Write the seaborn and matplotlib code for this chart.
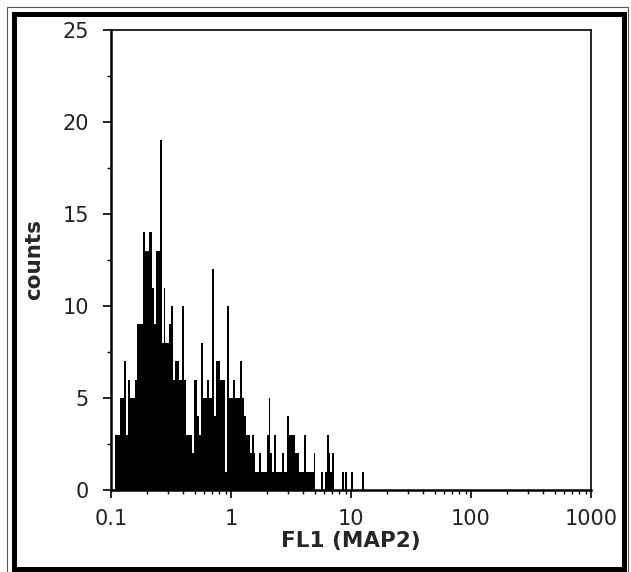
import numpy as np
import pandas as pd
import seaborn as sns
import matplotlib.pyplot as plt
from matplotlib.patches import Rectangle
from matplotlib.ticker import LogLocator, NullFormatter, FixedLocator

# histogram counts, one per log channel (64 channels per decade, starting at 0.1)
counts = [0, 0, 3, 3, 3, 5, 5, 7, 3, 6,
          5, 5, 5, 6, 9, 9, 9, 14, 13, 13,
          14, 14, 11, 9, 13, 13, 19, 8, 11, 8,
          8, 9, 10, 6, 7, 7, 6, 6, 10, 6,
          3, 3, 3, 2, 6, 6, 4, 3, 8, 5,
          5, 6, 5, 5, 12, 4, 7, 7, 6, 6,
          6, 1, 10, 5, 5, 6, 5, 5, 5, 7,
          5, 4, 3, 3, 2, 3, 2, 1, 1, 2,
          1, 1, 1, 3, 5, 2, 1, 3, 1, 1,
          1, 2, 1, 1, 4, 3, 3, 3, 2, 2,
          1, 1, 1, 3, 1, 1, 1, 1, 2, 0,
          0, 0, 1, 0, 1, 3, 2, 1, 2, 0,
          0, 0, 0, 1, 0, 1, 0, 0, 1, 0,
          0, 0, 0, 0, 1]
channels_per_decade = 64
x_min, x_max = 0.1, 1000
y_ticks = [0, 5, 10, 15, 20, 25]
x_ticks = [0.1, 1, 10, 100, 1000]
x_ticklabels = ['0.1', '1', '10', '100', '1000']

edges = x_min * 10 ** (np.arange(len(counts) + 1) / channels_per_decade)
centers = np.sqrt(edges[:-1] * edges[1:])
df = pd.DataFrame({'fl1': centers, 'n': counts})

sns.set_style('ticks')
plt.rcParams['font.family'] = ['DejaVu Sans']

W, H = 631, 572
fig = plt.figure(figsize=(W / 100, H / 100), dpi=100)
ax = fig.add_axes([111 / W, 1 - 490 / H, 480 / W, 460 / H])

sns.histplot(data=df, x='fl1', weights='n', bins=edges.tolist(), color='black',
             alpha=1, linewidth=0, ax=ax)
ax.set_xscale('log')
ax.set_xlim(x_min, x_max)
ax.set_ylim(0, 25)

ax.xaxis.set_major_locator(FixedLocator(x_ticks))
ax.set_xticklabels(x_ticklabels)
ax.xaxis.set_minor_locator(LogLocator(base=10, subs=np.arange(2, 10)))
ax.xaxis.set_minor_formatter(NullFormatter())
ax.set_yticks(y_ticks)
ax.set_yticks(np.arange(2.5, 25, 5), minor=True)

ax.tick_params(axis='both', which='major', direction='out', length=6,
               width=1.2, color='black', labelsize=15, labelcolor='#222222')
ax.tick_params(axis='x', which='major', pad=8)
ax.tick_params(axis='y', which='major', pad=10)
ax.tick_params(axis='both', which='minor', direction='out', length=3,
               width=1.0, color='black')

for s in ax.spines.values():
    s.set_visible(True)
    s.set_color('black')
    s.set_linewidth(1.2)
ax.spines['left'].set_linewidth(1.8)
ax.spines['bottom'].set_linewidth(1.8)

ax.set_xlabel('FL1 (MAP2)', fontsize=15.5, fontweight='bold', labelpad=1)
ax.set_ylabel('counts', fontsize=15.5, fontweight='bold', labelpad=13)
ax.grid(False)

# double frame around the figure
def px_rect(x0, y0, x1, y1, lw, color):
    fig.patches.append(Rectangle((x0 / W, 1 - y1 / H), (x1 - x0) / W,
                                 (y1 - y0) / H, transform=fig.transFigure,
                                 fill=False, lw=lw, edgecolor=color,
                                 zorder=10))

px_rect(7, 7, 628, 580, 0.8, '#555555')
px_rect(13.5, 13.5, 623.5, 568.5, 3.6, 'black')

fig.savefig('out.png', dpi=100)
